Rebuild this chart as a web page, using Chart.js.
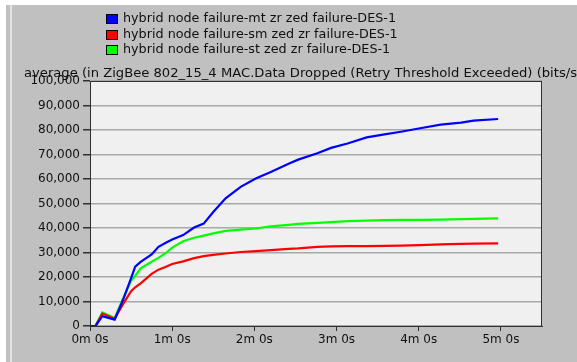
<!DOCTYPE html>
<html>
<head>
<meta charset="utf-8">
<style>
  html, body { margin: 0; padding: 0; background: #ffffff; }
  #wrap { width: 577px; height: 362px; position: relative; }
  canvas { display: block; }
</style>
<script src="https://cdn.jsdelivr.net/npm/chart.js@4/dist/chart.umd.min.js"></script>
</head>
<body>
<div id="wrap"><canvas id="c" width="577" height="362"></canvas></div>
<script>
// Sample times in seconds
const times = [0, 4, 9, 18, 24, 30, 33, 37, 45, 50, 55, 60, 68, 76, 83, 90, 99, 110, 121, 132, 145, 152, 166, 176, 188, 202, 215, 227, 241, 256, 271, 280, 298];

const seriesNames = [
  'hybrid node failure-mt zr zed failure-DES-1',
  'hybrid node failure-sm zed zr failure-DES-1',
  'hybrid node failure-st zed zr failure-DES-1'
];

const mtValues = [0, 0, 4000, 2600, 10500, 19500, 24200, 26200, 29200, 32300, 33900, 35300, 37100, 40200, 41800, 46500, 52100, 56800, 60200, 62900, 66200, 67900, 70500, 72700, 74500, 77000, 78200, 79300, 80700, 82200, 83000, 83800, 84500];
const smValues = [0, 0, 5000, 3000, 8800, 14200, 15800, 17400, 21300, 23000, 24100, 25300, 26400, 27700, 28500, 29000, 29600, 30200, 30600, 31000, 31500, 31700, 32300, 32500, 32600, 32600, 32700, 32800, 33000, 33300, 33500, 33600, 33700];
const stValues = [0, 0, 5500, 3300, 11000, 18500, 20500, 23500, 26200, 27800, 29600, 32000, 34600, 36000, 36900, 37800, 38800, 39300, 39800, 40700, 41300, 41700, 42100, 42400, 42800, 43000, 43200, 43300, 43300, 43400, 43600, 43700, 43900];

const xTickSeconds = [0, 60, 120, 180, 240, 300];

const seriesColors = ['#0000ff', '#ff0000', '#00ff00'];

const yTitle = 'average (in ZigBee 802_15_4 MAC.Data Dropped (Retry Threshold Exceeded) (bits/sec))';

const FONT = '"DejaVu Sans", Verdana, sans-serif';

function toPoints(vals) {
  return vals.map((v, i) => ({ x: times[i], y: v }));
}

// Draws text squeezed/stretched horizontally so that `ref` spans `target` px
function drawFitted(ctx, text, x, y, ref, target) {
  const k = target / ctx.measureText(ref).width;
  ctx.save();
  ctx.translate(x, y);
  ctx.scale(k, 1);
  ctx.fillText(text, 0, 0);
  ctx.restore();
}

// Panel background, plot frame, legend and axis title
const decor = {
  id: 'decor',
  beforeDraw(chart) {
    const ctx = chart.ctx;
    const a = chart.chartArea;
    ctx.save();
    ctx.fillStyle = '#ffffff';
    ctx.fillRect(0, 0, chart.width, chart.height);
    ctx.fillStyle = '#c0c0c0';
    ctx.fillRect(6, 5, chart.width - 6, chart.height - 5);
    ctx.fillStyle = '#e2e2e2';
    ctx.fillRect(10, 5, 2, chart.height - 5);
    ctx.fillStyle = '#f0f0f0';
    ctx.fillRect(a.left, a.top, a.right - a.left, a.bottom - a.top);
    ctx.restore();
  },
  afterDraw(chart) {
    const ctx = chart.ctx;
    const a = chart.chartArea;
    ctx.save();
    ctx.strokeStyle = '#303030';
    ctx.lineWidth = 1;
    ctx.strokeRect(a.left + 0.5, a.top + 0.5, a.right - a.left - 1, a.bottom - a.top);

    // legend
    ctx.font = '12px ' + FONT;
    ctx.textBaseline = 'middle';
    const rows = [19, 35, 50];
    seriesNames.forEach((name, i) => {
      ctx.fillStyle = seriesColors[i];
      ctx.fillRect(107, rows[i] - 4, 10, 8);
      ctx.strokeStyle = '#000000';
      ctx.strokeRect(106.5, rows[i] - 4.5, 11, 9);
      ctx.fillStyle = '#101010';
      drawFitted(ctx, name, 123, rows[i], seriesNames[0], 273);
    });

    // y axis title
    ctx.textBaseline = 'alphabetic';
    ctx.fillStyle = '#101010';
    const shown = yTitle.slice(0, yTitle.indexOf('(bits/s') + 7);
    drawFitted(ctx, yTitle, 24, 77, shown, 553);
    ctx.restore();
  }
};

new Chart(document.getElementById('c'), {
  type: 'line',
  data: {
    datasets: [
      { label: seriesNames[0], data: toPoints(mtValues), borderColor: seriesColors[0], backgroundColor: seriesColors[0], borderWidth: 2.2, pointRadius: 0, tension: 0 },
      { label: seriesNames[1], data: toPoints(smValues), borderColor: seriesColors[1], backgroundColor: seriesColors[1], borderWidth: 2.2, pointRadius: 0, tension: 0 },
      { label: seriesNames[2], data: toPoints(stValues), borderColor: seriesColors[2], backgroundColor: seriesColors[2], borderWidth: 2.2, pointRadius: 0, tension: 0 }
    ]
  },
  options: {
    responsive: false,
    animation: false,
    events: [],
    layout: { padding: { left: 0, right: 35, top: 81, bottom: 0 } },
    plugins: { legend: { display: false }, title: { display: false }, tooltip: { enabled: false } },
    scales: {
      x: {
        type: 'linear',
        min: 0,
        max: 330,
        afterFit(scale) { scale.height = 36; },
        afterBuildTicks(scale) {
          scale.ticks = xTickSeconds.map(v => ({ value: v }));
        },
        border: { display: true, color: '#303030', width: 1 },
        grid: { display: true, drawOnChartArea: false, drawTicks: true, tickLength: 5, color: '#303030' },
        ticks: {
          padding: 2,
          color: '#101010',
          font: { family: FONT, size: 12 },
          maxRotation: 0,
          callback: v => (v / 60) + 'm 0s'
        }
      },
      y: {
        min: 0,
        max: 100000,
        afterFit(scale) { scale.width = 90; },
        border: { display: true, color: '#303030', width: 1 },
        grid: { display: true, drawOnChartArea: true, drawTicks: true, tickLength: 7, color: '#a8a8a8', tickColor: '#303030', lineWidth: 1.5 },
        ticks: {
          stepSize: 10000,
          padding: 3,
          color: '#101010',
          font: { family: FONT, size: 12 },
          callback: v => v.toLocaleString('en-US')
        }
      }
    }
  },
  plugins: [decor]
});
</script>
</body>
</html>
